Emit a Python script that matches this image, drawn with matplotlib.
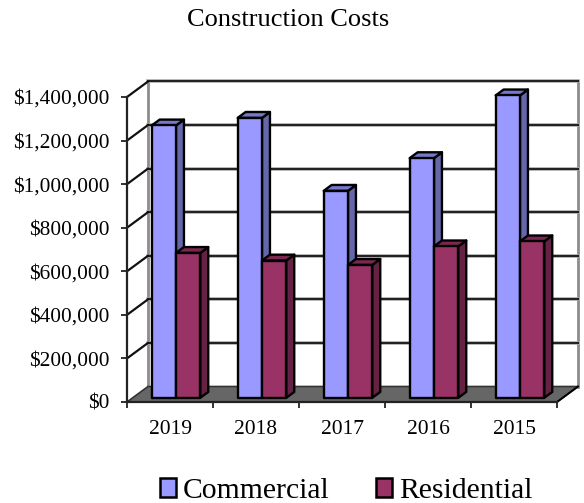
import numpy as np
import matplotlib
matplotlib.use('Agg')
import matplotlib.pyplot as plt
from matplotlib.patches import Polygon, Patch

years = ['2019', '2018', '2017', '2016', '2015']
commercial = [1250000, 1285000, 950000, 1100000, 1388000]
residential = [665000, 630000, 610000, 695000, 718000]
y_ticks = [0, 200000, 400000, 600000, 800000, 1000000, 1200000, 1400000]

plt.rcParams['font.family'] = ['Liberation Serif', 'DejaVu Serif']

W, H = 584, 503
fig = plt.figure(figsize=(W / 100, H / 100), dpi=100)
ax = fig.add_axes([127 / W, (H - 402) / H, 430 / W, 305 / H])
ax.set_xlim(0, 5)
ax.set_ylim(0, 1400000)

# fake 3d depth, in data units
DX = 21 / 86
DY = 15.5 * 1400000 / 305
BAR_W = 24.3 / 86
GAP = 19 / 86
BASE_D = 0.27   # how far back the bars stand on the floor
BAR_D = 0.38    # bar depth
EDGE = 1.7


def pt(x, y, d):
    return (x + d * DX, y + d * DY)


def box(x, val, front, side, top):
    ax.add_patch(Polygon([pt(x + BAR_W, 0, BASE_D), pt(x + BAR_W, 0, BASE_D + BAR_D),
                          pt(x + BAR_W, val, BASE_D + BAR_D), pt(x + BAR_W, val, BASE_D)],
                         fc=side, ec='black', lw=EDGE, clip_on=False, zorder=5, joinstyle='round'))
    ax.add_patch(Polygon([pt(x, val, BASE_D), pt(x + BAR_W, val, BASE_D),
                          pt(x + BAR_W, val, BASE_D + BAR_D), pt(x, val, BASE_D + BAR_D)],
                         fc=top, ec='black', lw=EDGE, clip_on=False, zorder=5, joinstyle='round'))
    ax.add_patch(Polygon([pt(x, 0, BASE_D), pt(x + BAR_W, 0, BASE_D),
                          pt(x + BAR_W, val, BASE_D), pt(x, val, BASE_D)],
                         fc=front, ec='black', lw=EDGE, clip_on=False, zorder=5, joinstyle='round'))


# floor
ax.add_patch(Polygon([pt(0, 0, 0), pt(5, 0, 0), pt(5, 0, 1), pt(0, 0, 1)],
                     fc='#666666', ec='#333333', lw=1.2, clip_on=False, zorder=2))

# walls
ax.plot([DX, DX], [DY, 1400000 + DY], color='#8c8c8c', lw=2, clip_on=False, zorder=1)
ax.plot([5 + DX, 5 + DX], [DY, 1400000 + DY], color='#8c8c8c', lw=2, clip_on=False, zorder=1)
for t in y_ticks[1:]:
    ax.plot([DX, 5 + DX], [t + DY, t + DY], color='#b0b0b0', lw=2.6, clip_on=False, zorder=1.2)
    ax.plot([DX, 5 + DX], [t + DY, t + DY], color='#222222', lw=1.5, clip_on=False, zorder=1.5)
    ax.plot([0, DX], [t, t + DY], color='#111111', lw=1.6, clip_on=False, zorder=1.5)
ax.plot([5, 5 + DX], [0, DY], color='black', lw=1.4, clip_on=False, zorder=3)

for i in range(len(years)):
    box(i + GAP, commercial[i], '#9999FF', '#6666AA', '#7777CC')
    box(i + GAP + BAR_W, residential[i], '#993366', '#662244', '#7A2850')

for s in ['top', 'right']:
    ax.spines[s].set_visible(False)
for s in ['left', 'bottom']:
    ax.spines[s].set_linewidth(1.6)
    ax.spines[s].set_color('#222222')
    ax.spines[s].set_zorder(4)

ax.set_yticks(y_ticks)
ax.set_yticklabels(['${:,}'.format(t) for t in y_ticks], fontsize=15.4, color='black')
ax.set_xticks(range(6))
ax.set_xticklabels([''] * 6)
ax.set_xticks(np.arange(5) + 0.5, minor=True)
ax.set_xticklabels(years, minor=True, fontsize=15.5)
ax.tick_params(axis='x', which='minor', length=0, pad=13)
ax.tick_params(axis='both', which='major', length=4, width=1.3, color='#222222')
ax.tick_params(axis='y', pad=8.7)
ax.patch.set_alpha(0)

fig.text(288 / W, 1 - 20 / H, 'Construction Costs', fontsize=19, ha='center', va='center')

handles = [Patch(fc='#9999FF', ec='black', lw=1.8), Patch(fc='#993366', ec='black', lw=1.8)]
fig.legend(handles, ['Commercial', 'Residential'], ncol=2, frameon=False, fontsize=21.3,
           loc='center', bbox_to_anchor=(346 / W, 1 - 491 / H), handlelength=0.55, handleheight=0.6,
           handletextpad=0.24, columnspacing=1.55)

fig.savefig('out.png', dpi=100)
